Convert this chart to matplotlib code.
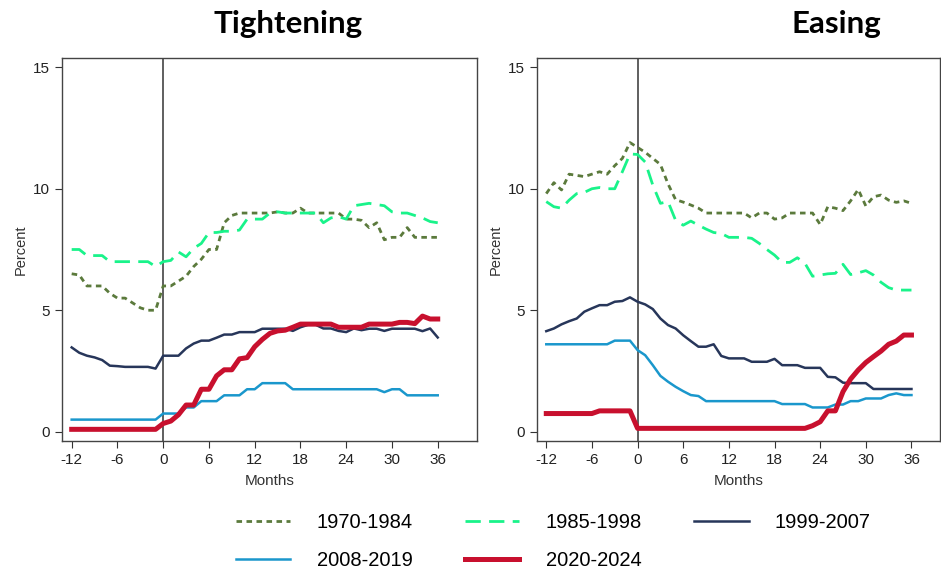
import matplotlib
matplotlib.use("Agg")
import matplotlib.pyplot as plt
import numpy as np

plt.rcParams["font.family"] = ["Liberation Sans", "DejaVu Sans"]
plt.rcParams["lines.scale_dashes"] = False
plt.rcParams["axes.unicode_minus"] = False

months = list(range(-12, 37))

# Tightening panel
tight_1970 = [6.5, 6.45, 6.0, 6.0, 6.0, 5.7, 5.5, 5.5, 5.3, 5.1, 5.0, 5.0,
              6.0, 6.0, 6.2, 6.4, 6.8, 7.1, 7.5, 7.5, 8.6, 8.9, 9.0, 9.0,
              9.0, 9.0, 9.0, 9.05, 9.0, 9.0, 9.2, 9.0, 9.0, 9.0, 9.0, 9.0,
              8.75, 8.75, 8.7, 8.4, 8.6, 7.9, 8.0, 8.0, 8.4, 8.0, 8.0, 8.0, 8.0]
tight_1985 = [7.5, 7.5, 7.25, 7.25, 7.25, 7.0, 7.0, 7.0, 7.0, 7.0, 7.0, 6.8,
              7.0, 7.05, 7.4, 7.2, 7.55, 7.75, 8.2, 8.2, 8.25, 8.25, 8.3, 8.75,
              8.75, 8.75, 9.0, 9.05, 9.0, 9.0, 9.0, 9.0, 9.0, 8.6, 8.8, 8.85,
              8.75, 9.3, 9.35, 9.4, 9.35, 9.3, 9.05, 9.0, 9.0, 8.9, 8.8, 8.65, 8.6]
tight_1999 = [3.47, 3.25, 3.13, 3.06, 2.95, 2.72, 2.7, 2.67, 2.67, 2.67, 2.67, 2.6,
              3.13, 3.13, 3.13, 3.43, 3.63, 3.75, 3.75, 3.87, 4.0, 4.0, 4.1, 4.1,
              4.1, 4.24, 4.24, 4.24, 4.24, 4.15, 4.3, 4.4, 4.4, 4.25, 4.25, 4.15,
              4.1, 4.25, 4.18, 4.24, 4.24, 4.15, 4.24, 4.24, 4.24, 4.24, 4.14, 4.25, 3.88]
tight_2008 = [0.5, 0.5, 0.5, 0.5, 0.5, 0.5, 0.5, 0.5, 0.5, 0.5, 0.5, 0.5,
              0.75, 0.75, 0.75, 1.0, 1.0, 1.26, 1.26, 1.26, 1.5, 1.5, 1.5, 1.75,
              1.75, 2.0, 2.0, 2.0, 2.0, 1.75, 1.75, 1.75, 1.75, 1.75, 1.75, 1.75,
              1.75, 1.75, 1.75, 1.75, 1.75, 1.63, 1.75, 1.75, 1.5, 1.5, 1.5, 1.5, 1.5]
tight_2020 = [0.1, 0.1, 0.1, 0.1, 0.1, 0.1, 0.1, 0.1, 0.1, 0.1, 0.1, 0.1,
              0.34, 0.44, 0.7, 1.1, 1.1, 1.75, 1.75, 2.3, 2.55, 2.55, 3.0, 3.05,
              3.5, 3.8, 4.05, 4.15, 4.18, 4.3, 4.43, 4.43, 4.43, 4.43, 4.43, 4.3,
              4.3, 4.3, 4.3, 4.43, 4.43, 4.43, 4.43, 4.5, 4.5, 4.45, 4.76, 4.64, 4.64]

# Easing panel
ease_1970 = [9.8, 10.25, 9.95, 10.6, 10.55, 10.5, 10.6, 10.7, 10.6, 10.95, 11.25, 11.9,
             11.7, 11.5, 11.25, 11.0, 10.2, 9.55, 9.45, 9.33, 9.2, 9.0, 9.0, 9.0,
             9.0, 9.0, 9.0, 8.8, 9.0, 9.0, 8.75, 8.8, 9.0, 9.0, 9.0, 9.0,
             8.53, 9.26, 9.2, 9.1, 9.5, 9.97, 9.29, 9.67, 9.74, 9.53, 9.44, 9.5, 9.4]
ease_1985 = [9.47, 9.26, 9.2, 9.53, 9.8, 9.85, 10.0, 10.05, 10.0, 10.0, 10.7, 11.43,
             11.41, 11.1, 10.15, 9.4, 9.47, 8.7, 8.5, 8.67, 8.5, 8.34, 8.2, 8.16,
             8.0, 8.0, 8.0, 7.96, 7.75, 7.5, 7.27, 6.97, 6.97, 7.16, 6.93, 6.4,
             6.45, 6.5, 6.52, 6.89, 6.47, 6.54, 6.63, 6.45, 6.15, 5.93, 5.83, 5.83, 5.83]
ease_1999 = [4.14, 4.25, 4.42, 4.55, 4.66, 4.94, 5.08, 5.21, 5.21, 5.35, 5.38, 5.53,
             5.35, 5.24, 5.05, 4.66, 4.39, 4.25, 3.97, 3.73, 3.5, 3.5, 3.6, 3.12,
             3.02, 3.02, 3.02, 2.88, 2.88, 2.88, 3.0, 2.74, 2.74, 2.74, 2.63, 2.63,
             2.63, 2.26, 2.24, 2.02, 2.0, 2.0, 2.0, 1.76, 1.76, 1.76, 1.76, 1.76, 1.76]
ease_2008 = [3.6, 3.6, 3.6, 3.6, 3.6, 3.6, 3.6, 3.6, 3.6, 3.75, 3.75, 3.75,
             3.36, 3.15, 2.74, 2.3, 2.06, 1.85, 1.67, 1.51, 1.47, 1.26, 1.26, 1.26,
             1.26, 1.26, 1.26, 1.26, 1.26, 1.26, 1.26, 1.14, 1.14, 1.14, 1.14, 1.0,
             1.0, 1.0, 1.12, 1.12, 1.26, 1.26, 1.37, 1.37, 1.37, 1.51, 1.58, 1.51, 1.51]
ease_2020 = [0.75, 0.75, 0.75, 0.75, 0.75, 0.75, 0.75, 0.86, 0.86, 0.86, 0.86, 0.86,
             0.14, 0.14, 0.14, 0.14, 0.14, 0.14, 0.14, 0.14, 0.14, 0.14, 0.14, 0.14,
             0.14, 0.14, 0.14, 0.14, 0.14, 0.14, 0.14, 0.14, 0.14, 0.14, 0.14, 0.25,
             0.41, 0.86, 0.86, 1.65, 2.17, 2.54, 2.85, 3.09, 3.32, 3.6, 3.73, 3.98, 3.98]

labels = ["1970-1984", "1985-1998", "1999-2007", "2008-2019", "2020-2024"]
colors = ["#5b7a3c", "#19f38a", "#27365a", "#1a97cc", "#c8102e"]
widths = [2.0, 2.0, 1.8, 1.8, 3.6]
dashes = [(4, 3.2), (11, 6), None, None, None]

fig = plt.figure(figsize=(9.41, 5.69), dpi=100)
ax1 = fig.add_axes([62 / 941, 1 - 441 / 569, 415 / 941, 383 / 569])
ax2 = fig.add_axes([537 / 941, 1 - 441 / 569, 403 / 941, 383 / 569])

panels = [
    (ax1, [tight_1970, tight_1985, tight_1999, tight_2008, tight_2020], (-13.27, 41.15)),
    (ax2, [ease_1970, ease_1985, ease_1999, ease_2008, ease_2020], (-13.22, 39.75)),
]

handles = []
for ax, series, xlim in panels:
    ax.axvline(0, color="#444444", linewidth=1.2, zorder=1)
    hs = []
    for vals, lab, c, w, d in zip(series, labels, colors, widths, dashes):
        if d is None:
            h, = ax.plot(months, vals, color=c, linewidth=w, label=lab, zorder=2)
        else:
            h, = ax.plot(months, vals, color=c, linewidth=w, dashes=d, label=lab, zorder=2)
        hs.append(h)
    handles = hs
    ax.set_xlim(*xlim)
    ax.set_ylim(-0.38, 15.38)
    ax.set_xticks(range(-12, 37, 6))
    ax.set_yticks([0, 5, 10, 15])
    ax.tick_params(direction="out", length=5, width=0.8, labelsize=11, colors="#333333",
                   labelcolor="#222222")
    ax.set_xlabel("Months", fontsize=11, color="#333333", labelpad=5)
    ax.set_ylabel("Percent", fontsize=10.5, color="#333333", labelpad=4)
    for s in ax.spines.values():
        s.set_color("#444444")
        s.set_linewidth(1.0)

fig.text(288 / 941, 1 - 33 / 569, "Tightening", family=["Lato", "DejaVu Sans"],
         fontweight="bold", fontsize=22.5, ha="center", va="baseline")
fig.text(836 / 941, 1 - 33 / 569, "Easing", family=["Lato", "DejaVu Sans"],
         fontweight="bold", fontsize=22.5, ha="center", va="baseline")

order = [0, 3, 1, 4, 2]
fig.legend([handles[i] for i in order], [labels[i] for i in order],
           loc="upper left", bbox_to_anchor=(236 / 941, 1 - 513 / 569), ncol=3,
           frameon=False, fontsize=14.5, handlelength=2.7, handletextpad=1.3,
           columnspacing=2.6, labelspacing=0.95, borderpad=0, borderaxespad=0)

fig.savefig("out.png", dpi=100)
